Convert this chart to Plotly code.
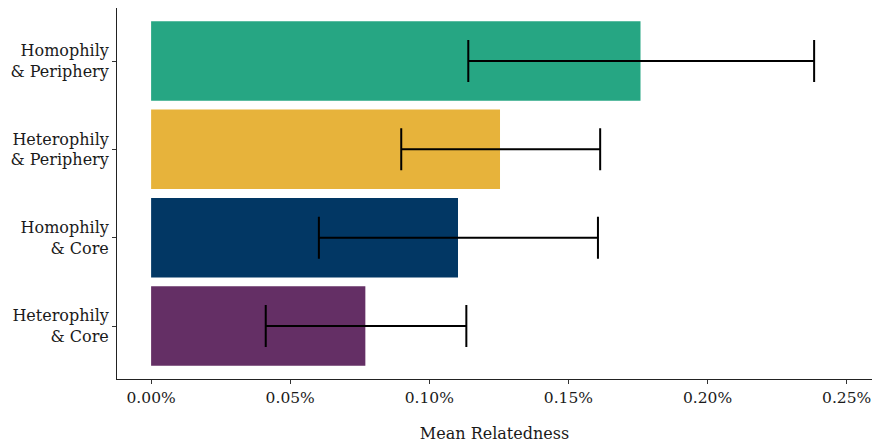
import plotly.graph_objects as go

# Data (bottom to top)
categories = ["Heterophily<br>& Core", "Homophily<br>& Core",
              "Heterophily<br>& Periphery", "Homophily<br>& Periphery"]
mean_relatedness = [0.000770, 0.001103, 0.001254, 0.001759]
ci_plus = [0.000363, 0.000503, 0.000360, 0.000624]
ci_minus = [0.000358, 0.000500, 0.000355, 0.000619]
bar_colors = ["#642F65", "#023764", "#E7B33B", "#26A683"]
tick_vals = [0, 0.0005, 0.0010, 0.0015, 0.0020, 0.0025]

FONT = "Georgia, 'DejaVu Serif', serif"

fig = go.Figure(go.Bar(
    x=mean_relatedness,
    y=categories,
    orientation="h",
    width=0.9,
    marker=dict(color=bar_colors, line=dict(width=0)),
    error_x=dict(type="data", array=ci_plus, arrayminus=ci_minus,
                 color="black", thickness=2, width=21),
))

fig.update_layout(
    width=872, height=446,
    margin=dict(l=117, r=0, t=8, b=67),
    plot_bgcolor="white", paper_bgcolor="white",
    font=dict(family=FONT, size=16, color="#1a1a1a"),
    showlegend=False,
    bargap=0.1,
)
fig.update_xaxes(
    range=[-0.0001226, 0.002591],
    tickvals=tick_vals, tickformat=".2%",
    tickfont=dict(size=15.5),
    ticklabeloverflow="allow",
    showline=True, linecolor="#222", linewidth=1,
    ticks="outside", ticklen=4, tickcolor="#333", tickwidth=1,
    showgrid=False, zeroline=False,
    title=dict(text="Mean Relatedness", standoff=22,
               font=dict(family=FONT, size=16, color="#1a1a1a")),
    automargin=False,
)
fig.update_yaxes(
    type="category", categoryorder="array", categoryarray=categories,
    range=[-0.6, 3.6],
    showline=True, linecolor="#222", linewidth=1,
    ticks="outside", ticklen=4, tickcolor="#333", tickwidth=1,
    showgrid=False, zeroline=False,
    automargin=False,
)

fig.write_html("out.html")
